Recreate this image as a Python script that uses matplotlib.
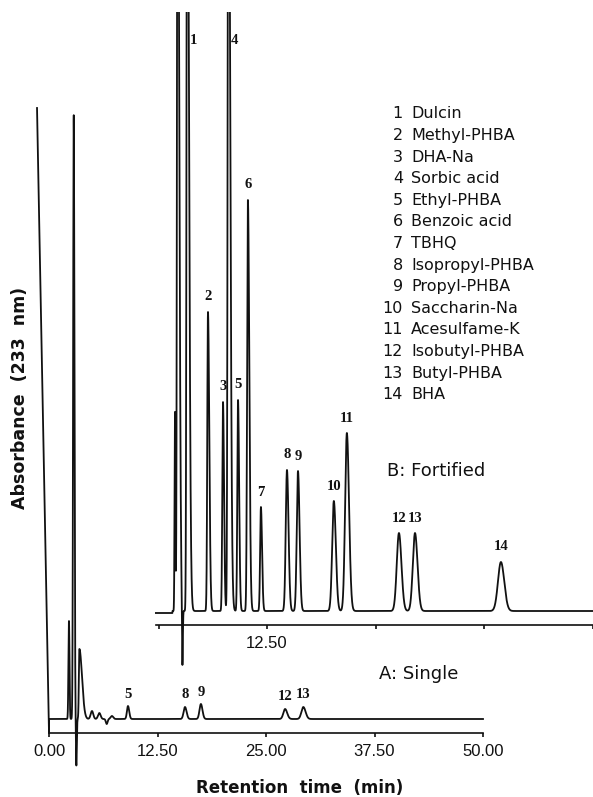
import numpy as np
import matplotlib.pyplot as plt

# ---- A: single sample (retention time in min, peak height, left/right width in min)
a_time = [2.3, 2.85, 3.15, 3.5, 4.95, 5.8, 6.65, 7.25, 9.1, 15.67, 17.5, 27.2, 29.3]
a_height = [98, 604, -47, 70, 8, 6, -5, 3, 13, 12, 15, 10, 12]
a_wl = [0.06, 0.07, 0.05, 0.06, 0.15, 0.15, 0.1, 0.15, 0.12, 0.16, 0.16, 0.2, 0.22]
a_wr = [0.06, 0.08, 0.05, 0.3, 0.15, 0.15, 0.1, 0.15, 0.14, 0.18, 0.18, 0.24, 0.26]
a_label = ['', '', '', '', '', '', '', '', '5', '8', '9', '12', '13']
# pen start of trace A
a_start_time = [-1.38, 0.0, 0.0]
a_start_height = [611, -14, 0]

# ---- B: fortified sample
b_time = [1.9, 2.2, 2.75, 3.3, 5.7, 7.43, 8.05, 9.16, 10.3, 11.8,
          14.8, 16.07, 20.2, 21.7, 27.7, 29.55, 39.45]
b_height = [199, 900, -62, 900, 299, 209, 900, 211, 411, 104,
            141, 140, 110, 178, 78, 78, 49]
b_wl = [0.05, 0.07, 0.05, 0.07, 0.08, 0.08, 0.08, 0.08, 0.09, 0.09,
        0.14, 0.14, 0.19, 0.2, 0.25, 0.25, 0.34]
b_wr = [0.05, 0.18, 0.05, 0.2, 0.15, 0.12, 0.2, 0.13, 0.16, 0.13,
        0.18, 0.18, 0.23, 0.25, 0.29, 0.29, 0.38]
b_label = ['', '', '', '1', '2', '3', '4', '5', '6', '7',
           '8', '9', '10', '11', '12', '13', '14']
b_start_time = [-0.3, 1.6]
b_start_height = [-2, -2]

compounds = ['Dulcin', 'Methyl-PHBA', 'DHA-Na', 'Sorbic acid', 'Ethyl-PHBA',
             'Benzoic acid', 'TBHQ', 'Isopropyl-PHBA', 'Propyl-PHBA',
             'Saccharin-Na', 'Acesulfame-K', 'Isobutyl-PHBA', 'Butyl-PHBA', 'BHA']

ticks = [0, 12.5, 25, 37.5, 50]

W, H = 593, 797
PPM = 8.68  # pixels per minute
INK = '#111111'


def box(x0, y0, x1, y1):
    return [x0 / W, 1 - y1 / H, (x1 - x0) / W, (y1 - y0) / H]


def trace(t, times, heights, wl, wr):
    y = np.zeros_like(t)
    for t0, h, l, r in zip(times, heights, wl, wr):
        w = np.where(t < t0, l, r)
        y += h * np.exp(-0.5 * ((t - t0) / w) ** 2)
    return y


def style_axis(ax, lo, hi):
    for s in ['left', 'right', 'top']:
        ax.spines[s].set_visible(False)
    ax.spines['bottom'].set_position(('data', -14))
    ax.spines['bottom'].set_bounds(lo, hi)
    ax.spines['bottom'].set_linewidth(1.2)
    ax.spines['bottom'].set_color(INK)
    ax.set_yticks([])
    ax.set_facecolor('none')
    ax.tick_params(axis='x', direction='out', length=3, width=1.2, pad=5,
                   labelsize=12, colors=INK)
    for lab in ax.get_xticklabels():
        lab.set_family('Liberation Sans')


def peak_text(ax, x, y, s):
    ax.text(x, y, s, ha='center', va='center', fontsize=10.5,
            family='Liberation Serif', weight='bold', color=INK)


fig = plt.figure(figsize=(W / 100, H / 100), dpi=100)

# A axes: t=0 at x=49 px, baseline at y=719 px
axA = fig.add_axes(box(30, 12, 483, 775))
axA.set_xlim((30 - 49) / PPM, 50)
axA.set_ylim(719 - 775, 719 - 12)
tA = np.arange(0, 50.0001, 0.004)
yA = trace(tA, a_time, a_height, a_wl, a_wr)
axA.plot(np.concatenate([a_start_time, tA]), np.concatenate([a_start_height, yA]),
         color=INK, lw=1.3, clip_on=False)
axA.set_xticks(ticks)
axA.set_xticklabels(['%.2f' % v for v in ticks])
style_axis(axA, 0, 50)
for t0, h, lab in zip(a_time, a_height, a_label):
    if lab:
        peak_text(axA, t0, h + 12, lab)
axA.text((379 - 49) / PPM, 719 - 674, 'A: Single', ha='left', va='center',
         fontsize=13, family='DejaVu Sans', color=INK)

# B axes: t=0 at x=158.5 px, baseline at y=611 px
axB = fig.add_axes(box(140, 12, 593, 690))
axB.set_xlim((140 - 158.5) / PPM, (593 - 158.5) / PPM)
axB.set_ylim(611 - 690, 611 - 12)
tB = np.arange(1.6, 50.0001, 0.004)
yB = trace(tB, b_time, b_height, b_wl, b_wr)
axB.plot(np.concatenate([b_start_time, tB]), np.concatenate([b_start_height, yB]),
         color=INK, lw=1.3)
axB.set_xticks(ticks)
axB.set_xticklabels(['', '12.50', '', '', ''])
style_axis(axB, -0.3, 50)
top_b = 571
for t0, h, lab in zip(b_time, b_height, b_label):
    if lab:
        if h + 15 > top_b:
            peak_text(axB, t0 + 0.7, top_b, lab)
        else:
            peak_text(axB, t0, h + 15, lab)
axB.text((387 - 158.5) / PPM, 611 - 471, 'B: Fortified', ha='left', va='center',
         fontsize=13, family='DejaVu Sans', color=INK)

# compound list
for i, name in enumerate(compounds):
    y = 1 - (114 + i * 21.6) / H
    fig.text(403 / W, y, str(i + 1), ha='right', va='center', fontsize=11.5,
             family='DejaVu Sans', color=INK)
    fig.text(411 / W, y, name, ha='left', va='center', fontsize=11.5,
             family='DejaVu Sans', color=INK)

fig.text(300 / W, 1 - 788 / H, 'Retention  time  (min)', ha='center', va='center',
         fontsize=12, weight='bold', family='DejaVu Sans', color=INK)
fig.text(20 / W, 1 - 398 / H, 'Absorbance  (233  nm)', ha='center', va='center',
         rotation=90, fontsize=12.5, weight='bold', family='DejaVu Sans', color=INK)

fig.savefig('out.png', dpi=100, facecolor='white')
